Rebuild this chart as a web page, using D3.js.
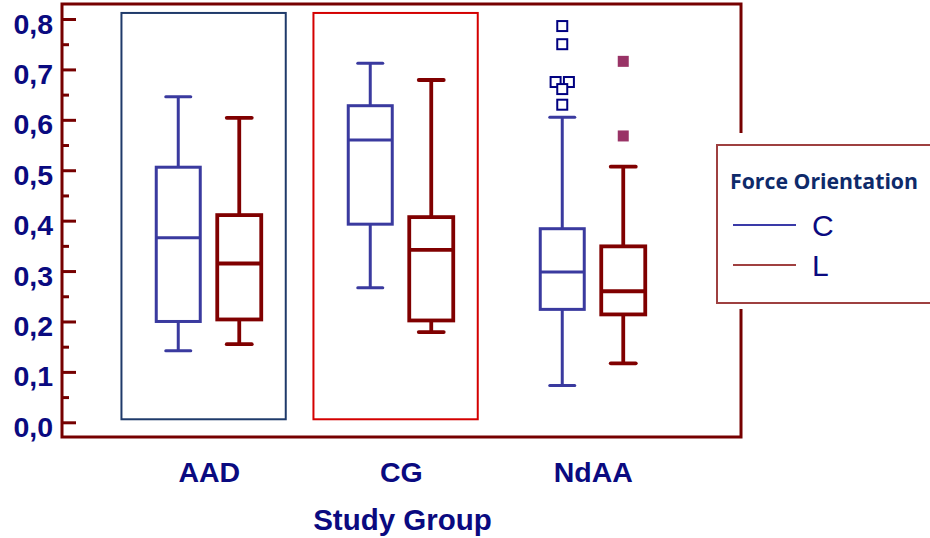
<!DOCTYPE html>
<html><head><meta charset="utf-8">
<script src="https://cdn.jsdelivr.net/npm/d3@7"></script>
<style>body{margin:0;background:#fff}svg{display:block}</style>
</head><body>
<svg id="chart" width="930" height="538"></svg>
<script>
const groups = ["AAD", "CG", "NdAA"];
const series = ["C", "L"];
const yTicks = [0, 0.1, 0.2, 0.3, 0.4, 0.5, 0.6, 0.7, 0.8];
const yMinorTicks = [0.05, 0.15, 0.25, 0.35, 0.45, 0.55, 0.65, 0.75];
// C (blue) series
const cLow    = [0.142, 0.267, 0.073];
const cQ1     = [0.200, 0.393, 0.224];
const cMedian = [0.366, 0.560, 0.298];
const cQ3     = [0.506, 0.628, 0.384];
const cHigh   = [0.646, 0.712, 0.605];
// L (red) series
const lLow    = [0.155, 0.179, 0.117];
const lQ1     = [0.204, 0.202, 0.214];
const lMedian = [0.315, 0.342, 0.260];
const lQ3     = [0.411, 0.407, 0.349];
const lHigh   = [0.604, 0.679, 0.507];
// outliers (NdAA)
const cOutliers = [0.786, 0.750, 0.675, 0.675, 0.661, 0.630];
const lOutliers = [0.716, 0.568];
const highlightGroups = ["AAD", "CG"];
const xTitle = "Study Group";
const legendTitle = "Force Orientation";

const svg = d3.select("#chart");
const navy = "#0a0a80";
const colC = "#3a3a9f", colL = "#800000", frameCol = "#760000";

const y = d3.scaleLinear().domain([0, 0.8]).range([422.3, 19]);
const x = d3.scalePoint().domain(groups).range([208.75, 592.75]);
const xs = d3.scalePoint().domain(series).range([-30.5, 30.5]);
const boxW = 44, capW = 25;

// group highlight rects
const hlCol = {AAD: "#1f3a6a", CG: "#d40000"};
svg.selectAll("rect.hl").data(highlightGroups).join("rect")
  .attr("x", g => x(g) - 87.3).attr("width", 164.3)
  .attr("y", y(0.812)).attr("height", y(0.006) - y(0.812))
  .attr("fill", "none").attr("stroke", g => hlCol[g]).attr("stroke-width", 2);

// frame
svg.append("rect").attr("x", 62).attr("y", 4).attr("width", 679).attr("height", 433)
  .attr("fill", "none").attr("stroke", frameCol).attr("stroke-width", 3);

// y axis
const yAxis = d3.axisLeft(y).tickValues(yTicks).tickSizeInner(-14).tickSizeOuter(0).tickPadding(9)
  .tickFormat(d => d3.format(".1f")(d).replace(".", ","));
const ga = svg.append("g").attr("transform", "translate(62,0)").call(yAxis);
ga.select(".domain").remove();
ga.selectAll(".tick line").attr("stroke", frameCol).attr("stroke-width", 3);
ga.selectAll(".tick text").attr("fill", navy).attr("font-family", "Liberation Sans, Arial, sans-serif")
  .attr("font-weight", "bold").attr("font-size", 28.5).attr("dy", 14);
const gm = svg.append("g").attr("transform", "translate(62,0)")
  .call(d3.axisLeft(y).tickValues(yMinorTicks).tickSizeInner(-7).tickSizeOuter(0).tickFormat(""));
gm.select(".domain").remove();
gm.selectAll(".tick line").attr("stroke", frameCol).attr("stroke-width", 3);

// x axis labels
const xa = svg.append("g").attr("transform", "translate(0,437)")
  .call(d3.axisBottom(x).tickSize(0).tickPadding(0));
xa.select(".domain").remove();
xa.selectAll(".tick text").attr("fill", navy).attr("font-family", "Liberation Sans, Arial, sans-serif")
  .attr("font-weight", "bold").attr("font-size", 28.5).attr("dy", 45).attr("y", 0);

svg.append("text").attr("x", 402.5).attr("y", 530).attr("text-anchor", "middle")
  .attr("fill", navy).attr("font-family", "Liberation Sans, Arial, sans-serif")
  .attr("font-weight", "bold").attr("font-size", 29.5).text(xTitle);

// boxes
const stats = {
  C: groups.map((g, i) => ({g, low: cLow[i], q1: cQ1[i], med: cMedian[i], q3: cQ3[i], high: cHigh[i]})),
  L: groups.map((g, i) => ({g, low: lLow[i], q1: lQ1[i], med: lMedian[i], q3: lQ3[i], high: lHigh[i]}))
};
const sCol = {C: colC, L: colL};
const sW = {C: 3, L: 3.8};
series.forEach(s => {
  const gg = svg.append("g").attr("stroke", sCol[s]).attr("stroke-width", sW[s]).attr("fill", "none");
  stats[s].forEach(d => {
    const cx = x(d.g) + xs(s);
    gg.append("line").attr("x1", cx).attr("x2", cx).attr("y1", y(d.high)).attr("y2", y(d.q3));
    gg.append("line").attr("x1", cx).attr("x2", cx).attr("y1", y(d.q1)).attr("y2", y(d.low));
    gg.append("line").attr("x1", cx - capW/2).attr("x2", cx + capW/2).attr("y1", y(d.high)).attr("y2", y(d.high)).attr("stroke-linecap", "round");
    gg.append("line").attr("x1", cx - capW/2).attr("x2", cx + capW/2).attr("y1", y(d.low)).attr("y2", y(d.low)).attr("stroke-linecap", "round");
    gg.append("rect").attr("x", cx - boxW/2).attr("width", boxW).attr("y", y(d.q3)).attr("height", y(d.q1) - y(d.q3)).attr("fill", "#fff");
    gg.append("line").attr("x1", cx - boxW/2).attr("x2", cx + boxW/2).attr("y1", y(d.med)).attr("y2", y(d.med));
  });
});

// outliers with simple dodge for equal values
function dodge(vals) {
  const counts = d3.rollup(vals, v => v.length, v => v);
  const seen = new Map();
  return vals.map(v => {
    const n = counts.get(v), k = seen.get(v) || 0; seen.set(v, k + 1);
    return {v, off: n > 1 ? (k - (n - 1) / 2) * 13.3 : 0};
  });
}
const oSize = 10;
svg.selectAll("rect.oc").data(dodge(cOutliers)).join("rect")
  .attr("x", d => x("NdAA") + xs("C") + d.off - oSize/2).attr("y", d => y(d.v) - oSize/2)
  .attr("width", oSize).attr("height", oSize)
  .attr("fill", "#fff").attr("stroke", "#000080").attr("stroke-width", 2);
svg.selectAll("rect.ol").data(dodge(lOutliers)).join("rect")
  .attr("x", d => x("NdAA") + xs("L") + d.off - 5.5).attr("y", d => y(d.v) - 5.5)
  .attr("width", 11).attr("height", 11).attr("fill", "#993366");

// legend
svg.append("rect").attr("x", 705).attr("y", 133).attr("width", 240).attr("height", 176).attr("fill", "#fff");
svg.append("rect").attr("x", 717).attr("y", 145).attr("width", 240).attr("height", 158)
  .attr("fill", "#fff").attr("stroke", "#9e4040").attr("stroke-width", 2);
svg.append("text").attr("x", 730).attr("y", 189).attr("fill", "#0e2a6a")
  .attr("font-family", "Open Sans, sans-serif").attr("font-weight", "bold").attr("font-size", 22)
  .attr("textLength", 188).attr("lengthAdjust", "spacingAndGlyphs").text(legendTitle);
const legCol = {C: "#3a3aa8", L: "#a04040"};
const ly = d3.scalePoint().domain(series).range([225, 265]);
series.forEach(s => {
  svg.append("line").attr("x1", 733).attr("x2", 796).attr("y1", ly(s)).attr("y2", ly(s))
    .attr("stroke", legCol[s]).attr("stroke-width", 2);
  svg.append("text").attr("x", 812).attr("y", ly(s) + 11).attr("fill", navy)
    .attr("font-family", "Liberation Sans, Arial, sans-serif").attr("font-size", 30).text(s);
});
</script>
</body></html>
